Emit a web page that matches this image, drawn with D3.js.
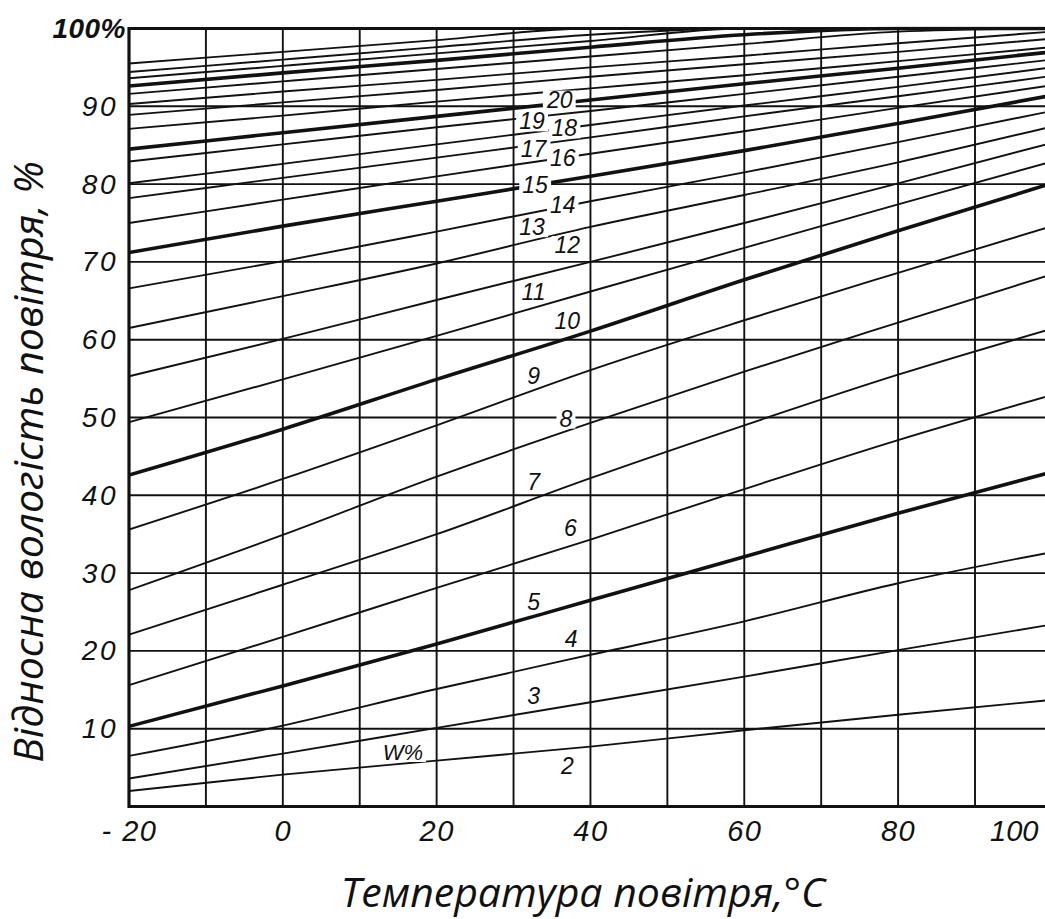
<!DOCTYPE html>
<html>
<head>
<meta charset="utf-8">
<script src="https://cdn.jsdelivr.net/npm/d3@7"></script>
<style>
  body { margin: 0; background: #fff; }
  svg { display: block; }
  .tick text { fill: #111; }
</style>
</head>
<body>
<svg id="chart" width="1045" height="919"></svg>
<script>
// ---------------- DATA ----------------
// temperatures (°C) at which each curve was read
const temps = [-20, 0, 20, 40, 60, 80, 100];

// relative humidity (%) of each equilibrium moisture-content curve W
const w02 = [2.0, 4.1, 5.9, 7.7, 9.8, 11.8, 13.7];
const w03 = [3.6, 6.8, 10.1, 13.4, 16.7, 20.1, 23.4];
const w04 = [6.5, 10.4, 15.1, 19.5, 23.8, 28.7, 32.7];
const w05 = [10.3, 15.5, 20.9, 26.5, 32.1, 37.7, 43.0];
const w06 = [15.6, 21.8, 28.1, 34.3, 40.8, 47.1, 52.9];
const w07 = [22.1, 28.5, 35.0, 42.2, 49.0, 55.5, 61.4];
const w08 = [27.8, 34.9, 42.4, 49.3, 55.9, 62.2, 68.4];
const w09 = [35.6, 42.1, 49.0, 56.1, 62.5, 68.6, 74.6];
const w10 = [42.6, 48.5, 54.9, 61.1, 67.7, 74.0, 80.1];
const w11 = [49.4, 54.9, 60.5, 66.2, 71.8, 77.4, 82.9];
const w12 = [55.3, 60.1, 65.1, 70.0, 75.0, 80.1, 85.3];
const w13 = [61.5, 65.6, 69.8, 74.5, 78.6, 82.8, 87.4];
const w14 = [66.6, 70.1, 73.9, 77.8, 81.5, 85.4, 89.4];
const w15 = [71.2, 74.6, 77.8, 81.0, 84.3, 87.8, 91.4];
const w16 = [75.0, 78.0, 81.0, 83.9, 86.8, 89.8, 92.7];
const w17 = [78.2, 80.8, 83.4, 86.0, 88.7, 91.3, 93.9];
const w18 = [80.1, 82.6, 85.1, 87.6, 90.1, 92.5, 95.0];
const w19 = [82.9, 85.1, 87.3, 89.4, 91.6, 93.8, 96.0];
const w20 = [84.5, 86.6, 88.7, 90.8, 92.9, 94.9, 97.0];
const w21 = [87.1, 88.8, 90.6, 92.3, 94.0, 95.8, 97.6];
const w22 = [88.9, 90.5, 92.1, 93.8, 95.4, 97.0, 98.7];
const w23 = [90.3, 91.9, 93.4, 95.0, 96.5, 98.1, 99.6];
const w24 = [91.6, 93.2, 94.8, 96.4, 98.0, 99.6, 100];
const w25 = [92.6, 94.3, 95.9, 97.6, 99.2, 100, 100];
const w26 = [93.6, 95.2, 96.8, 98.4, 100, 100, 100];
const w27 = [94.4, 96.0, 97.6, 99.2, 100, 100, 100];
const w28 = [95.5, 97.0, 98.5, 100, 100, 100, 100];

const moistureLevels = [2,3,4,5,6,7,8,9,10,11,12,13,14,15,16,17,18,19,20,21,22,23,24,25,26,27,28];
const curveValues = [w02,w03,w04,w05,w06,w07,w08,w09,w10,w11,w12,w13,w14,w15,w16,w17,w18,w19,w20,w21,w22,w23,w24,w25,w26,w27,w28];
const boldLevels = [5, 10, 15, 20, 25];

// grid and ticks
const gridTemps = [-10, 0, 10, 20, 30, 40, 50, 60, 70, 80, 90];
const gridRH = [10, 20, 30, 40, 50, 60, 70, 80, 90];
const xTickValues = [-20, 0, 20, 40, 60, 80, 100];
const xTickLabels = ["- 20", "0", "20", "40", "60", "80", "100"];
const yTickValues = [10, 20, 30, 40, 50, 60, 70, 80, 90, 100];
const yTickLabels = ["10", "20", "30", "40", "50", "60", "70", "80", "90", "100%"];

// curve labels (text, temperature and humidity of the label centre)
const labelText = ["20","19","18","17","16","15","14","13","12","11","10","9","8","7","6","5","4","3","2","W%"];
const labelTemp = [36.0, 32.4, 36.6, 32.6, 36.4, 32.8, 36.4, 32.4, 37.0, 32.6, 37.0, 32.6, 36.8, 32.6, 37.4, 32.6, 37.5, 32.6, 37.0, 15.6];
const labelRH   = [90.9, 88.1, 87.2, 84.6, 83.4, 79.9, 77.4, 74.5, 72.2, 66.2, 62.4, 55.4, 49.9, 41.8, 35.8, 26.3, 21.6, 14.3, 5.3, 7.0];

const xTitle = "Температура повітря,°C";
const yTitle = "Відносна вологість повітря, %";

// ---------------- DRAWING ----------------
(function draw() {
  const W = 1045, H = 919;
  const svg = d3.select("#chart");
  const ink = "#111";
  const numFont = "'Liberation Sans', 'DejaVu Sans', sans-serif";

  const x = d3.scaleLinear().domain([-20, 90]).range([129, 975]);
  const y = d3.scaleLinear().domain([0, 100]).range([806.5, 28.5]);

  const pL = x(-20), pR = W, pT = y(100), pB = y(0);

  svg.append("rect").attr("width", W).attr("height", H).attr("fill", "#fff");

  svg.append("defs").append("clipPath").attr("id", "plotClip")
    .append("rect").attr("x", pL).attr("y", pT - 2).attr("width", pR - pL).attr("height", pB - pT + 4);

  const plot = svg.append("g").attr("clip-path", "url(#plotClip)");

  // horizontal grid
  plot.append("g").selectAll("line").data(gridRH).join("line")
    .attr("x1", pL).attr("x2", pR)
    .attr("y1", d => y(d)).attr("y2", d => y(d))
    .attr("stroke", ink).attr("stroke-width", 1.9);

  // curves
  const line = d3.line().x(d => x(d[0])).y(d => y(d[1])).curve(d3.curveMonotoneX);
  const series = moistureLevels.map((w, i) => ({ w, pts: temps.map((t, j) => [t, curveValues[i][j]]) }));
  plot.append("g").selectAll("path").data(series).join("path")
    .attr("d", d => line(d.pts))
    .attr("fill", "none")
    .attr("stroke", ink)
    .attr("stroke-width", d => boldLevels.includes(d.w) ? 3.6 : 1.9);

  // curve labels: white knock-outs first
  const knock = svg.append("g");
  const vgrid = svg.append("g").attr("clip-path", "url(#plotClip)");
  const labs = svg.append("g");
  labelText.forEach((t, i) => {
    const txt = labs.append("text")
      .attr("x", x(labelTemp[i])).attr("y", y(labelRH[i]))
      .attr("dy", "0.36em")
      .attr("text-anchor", "middle")
      .attr("font-family", numFont)
      .attr("font-style", "italic")
      .attr("font-size", t === "W%" ? 22 : 23)
      .attr("fill", ink)
      .text(t);
    const bb = txt.node().getBBox();
    knock.append("rect")
      .attr("x", bb.x - 3).attr("y", bb.y + 4)
      .attr("width", bb.width + 6).attr("height", bb.height - 7)
      .attr("fill", "#fff");
  });

  // vertical grid (never interrupted)
  vgrid.selectAll("line").data(gridTemps).join("line")
    .attr("x1", d => x(d)).attr("x2", d => x(d))
    .attr("y1", pT).attr("y2", pB)
    .attr("stroke", ink).attr("stroke-width", 1.9);

  // frame (left axis, bottom axis, top border)
  svg.append("line").attr("x1", pL).attr("x2", pL).attr("y1", pT - 1.5).attr("y2", pB + 1.5)
    .attr("stroke", ink).attr("stroke-width", 3.2);
  svg.append("line").attr("x1", pL).attr("x2", pR).attr("y1", pB).attr("y2", pB)
    .attr("stroke", ink).attr("stroke-width", 3.2);
  svg.append("line").attr("x1", pL).attr("x2", pR).attr("y1", pT).attr("y2", pT)
    .attr("stroke", ink).attr("stroke-width", 3.2);

  // axes (tick labels only)
  const xAxis = d3.axisBottom(x).tickValues(xTickValues)
    .tickFormat((d, i) => xTickLabels[i]).tickSize(0).tickPadding(14);
  const gx = svg.append("g").attr("transform", `translate(0,${pB})`).call(xAxis);
  gx.select(".domain").remove();
  gx.selectAll("text")
    .attr("font-family", numFont).attr("font-style", "italic").attr("font-size", 29)
    .attr("letter-spacing", 1.5).attr("fill", ink);
  // the last label sits inside the cropped right edge
  gx.selectAll(".tick").filter(d => x(d) > W - 20).select("text")
    .attr("text-anchor", "end").attr("letter-spacing", 0)
    .attr("x", W - 7 - x(100));

  const yAxis = d3.axisLeft(y).tickValues(yTickValues)
    .tickFormat((d, i) => yTickLabels[i]).tickSize(0).tickPadding(11);
  const gy = svg.append("g").attr("transform", `translate(${pL},0)`).call(yAxis);
  gy.select(".domain").remove();
  gy.selectAll("text")
    .attr("font-family", numFont).attr("font-style", "italic").attr("font-size", 28)
    .attr("letter-spacing", 2.5).attr("fill", ink);
  gy.selectAll(".tick").filter(d => d === 100).select("text")
    .attr("dx", 8).attr("letter-spacing", 0.5).attr("font-weight", "bold");

  // titles
  svg.append("text")
    .attr("transform", `translate(43,462) rotate(-90)`)
    .attr("text-anchor", "middle")
    .attr("font-family", "'Open Sans', 'Noto Sans', sans-serif")
    .attr("font-style", "italic")
    .attr("font-size", 41)
    .attr("fill", ink)
    .text(yTitle);

  svg.append("text")
    .attr("x", 583).attr("y", 907)
    .attr("text-anchor", "middle")
    .attr("font-family", "'Open Sans', 'Noto Sans', sans-serif")
    .attr("font-style", "italic")
    .attr("font-size", 41)
    .attr("fill", ink)
    .text(xTitle);
})();
</script>
</body>
</html>
